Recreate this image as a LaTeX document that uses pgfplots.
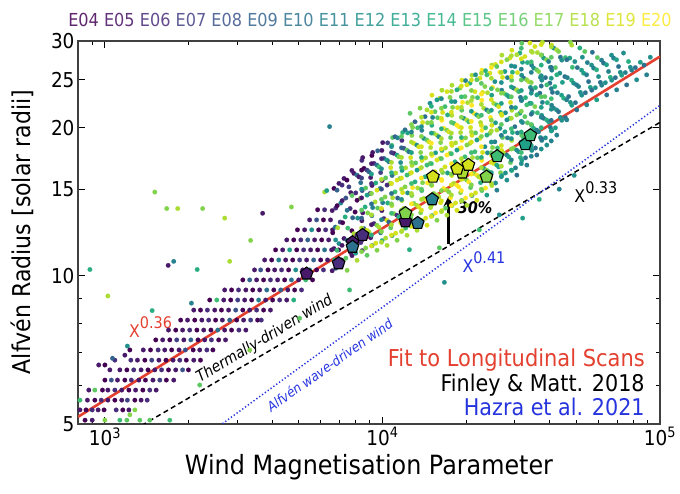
\documentclass[border=0pt]{standalone}
\usepackage{fontspec}
\setmainfont{DejaVu Sans}[FakeStretch=0.9]
\usepackage{pgfplots}
\pgfplotsset{compat=1.18}
\usetikzlibrary{plotmarks,arrows.meta}
\definecolor{v4}{HTML}{440154}\definecolor{v5}{HTML}{471365}\definecolor{v6}{HTML}{472A7A}
\definecolor{v7}{HTML}{423F85}\definecolor{v8}{HTML}{3B528B}\definecolor{v9}{HTML}{33638D}
\definecolor{v10}{HTML}{2C728E}\definecolor{v11}{HTML}{27818E}\definecolor{v12}{HTML}{21918C}
\definecolor{v13}{HTML}{1FA088}\definecolor{v14}{HTML}{28AE80}\definecolor{v15}{HTML}{3FBC73}
\definecolor{v16}{HTML}{5EC962}\definecolor{v17}{HTML}{84D44B}\definecolor{v18}{HTML}{ADDC30}
\definecolor{v19}{HTML}{D8E219}\definecolor{v20}{HTML}{FDE725}
\definecolor{fitred}{RGB}{228,64,48}
\definecolor{hblue}{RGB}{38,52,222}
\newcommand{\E}[1]{\textcolor{v#1!85!white}{E#1}}
\newcommand{\Ez}[1]{\textcolor{v#1!85!white}{E0#1}}
\begin{document}
\begin{tikzpicture}
\path[use as bounding box] (0,0) rectangle (680pt,494pt);
\begin{axis}[
 at={(78pt,70pt)}, anchor=south west,
 width=582pt, height=383pt, scale only axis,
 xmode=log, ymode=log,
 xmin=800, xmax=100000, ymin=5, ymax=30,
 xtick={1000,10000,100000},
 xticklabels={10\textsuperscript{3},10\textsuperscript{4},10\textsuperscript{5}},
 minor xtick={900,2000,3000,4000,5000,6000,7000,8000,9000,20000,30000,40000,50000,60000,70000,80000,90000},
 ytick={5,10,15,20,25,30}, yticklabels={5,10,15,20,25,30},
 minor ytick={6,7,8,9},
 tick align=inside,
 major tick length=7pt, minor tick length=4pt,
 every tick/.style={black, line width=1pt},
 axis line style={line width=1.3pt, black!75},
 tick label style={font=\fontsize{20.5}{20.5}\selectfont},
 colormap/viridis, point meta min=4, point meta max=20,
]
\addplot[scatter, only marks, mark=*, mark size=2.3pt, point meta=explicit,
 scatter/use mapped color={draw=mapped color, fill=mapped color}, mark options={line width=0.1pt}]
 table[row sep=\\, meta=c]{
x y c\\
848 5.09 4\\ 900 5.09 5\\ 1000 5.09 17\\ 1132 5.09 15\\ 1200 5.09 16\\ 1336 5.09 16\\ 1451 5.09 16\\ 1713 5.09 15\\
813 5.34 5\\ 855 5.34 4\\ 900 5.34 6\\ 945 5.34 5\\ 993 5.34 4\\ 1098 5.34 6\\ 1160 5.34 4\\ 1220 5.34 5\\ 1282 5.34 17\\
813 5.59 15\\ 865 5.59 5\\ 920 5.59 4\\ 970 5.59 6\\ 1025 5.59 5\\ 1086 5.59 4\\ 1150 5.59 5\\ 1205 5.59 7\\ 1282 5.59 4\\ 1350 5.59 5\\ 1420 5.59 6\\
875 5.86 5\\ 920 5.86 16\\ 980 5.86 4\\ 1025 5.86 5\\ 1086 5.86 6\\ 1150 5.86 5\\ 1220 5.86 4\\ 1290 5.86 5\\ 1370 5.86 4\\ 1451 5.86 6\\ 1530 5.86 5\\
1000 6.14 4\\ 1055 6.14 8\\ 1110 6.14 5\\ 1180 6.14 4\\ 1245 6.14 6\\ 1325 6.14 5\\ 1400 6.14 4\\ 1490 6.14 5\\ 1577 6.14 7\\ 1665 6.14 4\\ 1770 6.14 5\\
1132 6.44 5\\ 1200 6.44 4\\ 1270 6.44 6\\ 1350 6.44 5\\ 1430 6.44 4\\ 1513 6.44 5\\ 1600 6.44 6\\ 1695 6.44 4\\ 1800 6.44 5\\ 1905 6.44 8\\ 2000 6.44 4\\
1240 6.74 6\\ 1310 6.74 5\\ 1393 6.74 4\\ 1475 6.74 7\\ 1565 6.74 5\\ 1660 6.74 4\\ 1760 6.74 5\\ 1861 6.74 6\\ 1965 6.74 4\\ 2090 6.74 5\\ 2210 6.74 4\\
1375 7.07 5\\ 1460 7.07 4\\ 1555 7.07 6\\ 1643 7.07 5\\ 1740 7.07 4\\ 1850 7.07 5\\ 1950 7.07 8\\ 2080 7.07 4\\ 2196 7.07 5\\ 2330 7.07 6\\ 2450 7.07 4\\
1525 7.41 4\\ 1615 7.41 5\\ 1713 7.41 4\\ 1815 7.41 7\\ 1925 7.41 5\\ 2040 7.41 9\\ 2165 7.41 4\\ 2289 7.41 5\\ 2420 7.41 6\\ 2570 7.41 4\\ 2720 7.41 5\\
1695 7.76 5\\ 1800 7.76 4\\ 1905 7.76 5\\ 2021 7.76 6\\ 2145 7.76 4\\ 2270 7.76 5\\ 2410 7.76 4\\ 2550 7.76 10\\ 2701 7.76 5\\ 2860 7.76 4\\ 3040 7.76 6\\ 3220 7.76 5\\
1875 8.13 4\\ 1985 8.13 5\\ 2107 8.13 4\\ 2235 8.13 5\\ 2365 8.13 6\\ 2505 8.13 4\\ 2650 8.13 5\\ 2816 8.13 9\\ 2985 8.13 4\\ 3160 8.13 5\\ 3350 8.13 7\\ 3550 8.13 4\\ 3660 8.13 6\\
2090 8.52 5\\ 2210 8.52 4\\ 2340 8.52 6\\ 2487 8.52 5\\ 2630 8.52 4\\ 2790 8.52 5\\ 2960 8.52 8\\ 3140 8.52 4\\ 3324 8.52 5\\ 3520 8.52 6\\ 3730 8.52 4\\ 3950 8.52 5\\
2386 8.93 4\\ 2530 8.93 15\\ 2680 8.93 5\\ 2840 8.93 4\\ 3010 8.93 7\\ 3189 8.93 5\\ 3380 8.93 4\\ 3580 8.93 11\\ 3795 8.93 5\\ 4020 8.93 4\\ 4262 8.93 6\\ 4520 8.93 5\\ 4790 8.93 14\\
2701 9.36 5\\ 2860 9.36 4\\ 3030 9.36 6\\ 3220 9.36 5\\ 3410 9.36 4\\ 3611 9.36 5\\ 3830 9.36 10\\ 4060 9.36 4\\ 4300 9.36 9\\ 4560 9.36 5\\ 4826 9.36 4\\ 5110 9.36 6\\
3140 9.81 4\\ 3324 9.81 9\\ 3520 9.81 5\\ 3730 9.81 4\\ 3950 9.81 6\\ 4190 9.81 5\\ 4442 9.81 4\\ 4700 9.81 10\\ 4990 9.81 5\\ 5290 9.81 15\\ 5600 9.81 4\\
3460 10.28 5\\ 3640 10.28 8\\ 3870 10.28 4\\ 4089 10.28 5\\ 4330 10.28 6\\ 4590 10.28 4\\ 4870 10.28 12\\ 5160 10.28 5\\ 5464 10.28 10\\ 5790 10.28 4\\ 6130 10.28 6\\
3764 10.77 5\\ 3990 10.77 4\\ 4230 10.77 11\\ 4480 10.77 5\\ 4750 10.77 4\\ 5030 10.77 7\\ 5330 10.77 5\\ 5650 10.77 9\\ 5990 10.77 4\\ 6340 10.77 5\\ 6722 10.77 14\\ 7120 10.77 4\\
4120 11.29 4\\ 4370 11.29 5\\ 4630 11.29 13\\ 4910 11.29 4\\ 5200 11.29 6\\ 5510 11.29 5\\ 5840 11.29 4\\ 6187 11.29 10\\ 6560 11.29 5\\ 6950 11.29 4\\
4520 11.83 5\\ 4790 11.83 4\\ 5080 11.83 6\\ 5380 11.83 9\\ 5696 11.83 5\\ 6040 11.83 4\\ 6400 11.83 5\\ 6780 11.83 12\\
4940 12.40 4\\ 5243 12.40 5\\ 5560 12.40 12\\ 5890 12.40 4\\ 6240 12.40 6\\ 6610 12.40 5\\
5464 12.99 5\\ 5790 12.99 8\\ 6130 12.99 4\\ 6500 12.99 5\\ 5840 13.62 4\\ 6187 13.62 6\\
950 6.59 5\\ 1000 6.59 4\\ 1042 6.44 5\\ 1086 6.74 6\\ 1180 6.90 5\\ 1230 7.07 4\\
6590 10.24 5\\ 6790 10.36 9\\ 6690 11.36 5\\ 6860 11.27 15\\ 6620 12.23 4\\ 6760 12.56 10\\ 6590 13.57 5\\ 6790 13.73 6\\ 6690 15.05 4\\ 6860 14.93 9\\
6870 10.49 6\\ 7080 10.61 4\\ 6970 11.63 12\\ 7150 11.53 5\\ 6900 12.52 18\\ 7040 12.86 7\\ 6870 13.89 4\\ 7080 14.06 11\\ 6970 15.41 5\\ 7150 15.29 6\\
7160 10.73 4\\ 7380 10.86 16\\ 7270 11.91 5\\ 7450 11.81 10\\ 7190 12.82 4\\ 7340 13.17 14\\ 7160 14.22 5\\ 7380 14.39 8\\ 7270 15.77 5\\ 7450 15.65 4\\
7460 10.26 17\\ 7690 11.14 5\\ 7570 11.44 11\\ 7760 12.35 4\\ 7500 12.50 15\\ 7650 13.70 6\\ 7460 13.59 10\\ 7690 14.76 5\\ 7570 15.16 7\\ 7760 16.37 5\\
7770 10.99 5\\ 8010 11.12 13\\ 7890 12.18 18\\ 8090 12.09 5\\ 7810 13.12 9\\ 7970 13.48 4\\ 7770 14.56 16\\ 8010 14.74 6\\ 7890 16.15 5\\ 8090 16.02 10\\
8100 10.75 18\\ 8350 11.68 6\\ 8230 11.99 16\\ 8430 12.94 5\\ 8140 13.10 12\\ 8310 14.36 17\\ 8100 14.24 4\\ 8350 15.46 10\\ 8230 15.89 5\\ 8430 17.16 6\\
8450 11.25 5\\ 8700 11.39 17\\ 8580 12.47 9\\ 8790 12.37 19\\ 8490 13.43 5\\ 8660 13.80 14\\ 8450 14.90 8\\ 8700 15.08 16\\ 8580 16.53 4\\ 8790 16.40 7\\ 8490 17.39 5\\
8800 11.01 16\\ 9070 11.95 5\\ 8940 12.28 18\\ 9160 13.25 10\\ 8850 13.42 17\\ 9030 14.70 6\\ 8800 14.59 13\\ 9070 15.84 5\\ 8940 16.27 9\\ 9160 17.56 4\\
9170 11.52 12\\ 9460 11.65 19\\ 9320 12.77 6\\ 9550 12.67 17\\ 9220 13.76 11\\ 9410 14.13 18\\ 9170 15.26 5\\ 9460 15.44 14\\ 9320 16.92 6\\ 9550 16.79 10\\ 9220 17.81 5\\
9560 11.27 17\\ 9850 12.23 10\\ 9710 12.56 18\\ 9950 13.57 5\\ 9610 13.73 16\\ 9810 15.05 12\\ 9560 14.93 19\\ 9850 16.21 7\\ 9710 16.65 15\\ 9950 17.98 5\\ 9610 17.95 9\\
9970 11.79 14\\ 10270 11.93 18\\ 10120 13.07 6\\ 10370 12.97 19\\ 10020 14.08 11\\ 10220 14.46 17\\ 9970 15.62 5\\ 10270 15.81 16\\ 10120 17.32 9\\ 10370 17.19 13\\ 10020 18.65 5\\
10390 11.53 18\\ 10710 12.52 16\\ 10550 12.86 9\\ 10810 13.89 18\\ 10440 14.06 14\\ 10650 15.41 17\\ 10390 15.29 6\\ 10710 16.59 19\\ 10550 17.05 11\\ 10810 18.41 15\\ 10440 18.63 7\\
10830 12.07 12\\ 11160 12.21 19\\ 10990 13.38 17\\ 11270 13.28 6\\ 10880 14.41 18\\ 11100 14.81 15\\ 10830 15.99 10\\ 11160 16.18 18\\ 10990 17.74 5\\ 11270 17.60 13\\ 10880 19.10 16\\ 11100 19.17 9\\
11290 11.81 17\\ 11630 12.82 19\\ 11460 13.17 14\\ 11750 14.22 18\\ 11340 14.39 9\\ 11570 15.77 16\\ 11290 15.65 19\\ 11630 16.99 12\\ 11460 17.45 17\\ 11750 18.84 6\\ 11340 19.07 11\\
11760 12.35 19\\ 12120 12.50 15\\ 11940 13.70 18\\ 12240 13.59 11\\ 11820 14.76 19\\ 12060 15.16 17\\ 11760 16.37 13\\ 12120 16.57 18\\ 11940 18.16 8\\ 12240 18.01 16\\ 11820 19.55 14\\ 12060 19.80 10\\
12260 12.09 18\\ 12640 13.12 16\\ 12450 13.48 19\\ 12760 14.56 17\\ 12320 14.74 12\\ 12570 16.15 18\\ 12260 16.02 15\\ 12640 17.39 19\\ 12450 17.87 10\\ 12760 19.29 17\\ 12320 19.52 13\\ 12570 21.39 16\\
12780 12.65 13\\ 13170 12.80 19\\ 12970 14.03 17\\ 13300 13.91 18\\ 12840 15.11 20\\ 13100 15.52 14\\ 12780 16.76 18\\ 13170 16.96 16\\ 12970 18.59 19\\ 13300 18.44 12\\ 12840 20.02 17\\ 13100 20.56 9\\
13320 12.37 18\\ 13730 13.43 17\\ 13520 13.80 19\\ 13860 14.90 15\\ 13390 15.08 18\\ 13660 16.53 20\\ 13320 16.40 13\\ 13730 17.81 17\\ 13520 18.29 19\\ 13860 19.75 11\\ 13390 19.99 15\\ 13660 21.91 17\\
13880 12.94 16\\ 14310 13.10 19\\ 14090 14.36 18\\ 14450 14.24 20\\ 13950 15.46 17\\ 14240 15.89 14\\ 13880 17.16 19\\ 14310 17.37 18\\ 14090 19.02 12\\ 14450 18.88 16\\ 13950 20.49 19\\ 14240 21.06 10\\
14470 12.67 19\\ 14910 13.76 18\\ 14690 14.13 16\\ 15060 15.26 19\\ 14540 15.44 20\\ 14840 16.92 17\\ 14470 16.79 15\\ 14910 18.23 18\\ 14690 18.72 19\\ 15060 20.22 14\\ 14540 20.46 17\\ 14840 22.42 12\\ 14470 21.73 18\\
15080 13.25 14\\ 15540 13.42 20\\ 15310 14.70 17\\ 15700 14.59 18\\ 15160 15.84 16\\ 15460 16.27 19\\ 15080 17.56 20\\ 15540 17.78 13\\ 15310 19.48 17\\ 15700 19.32 18\\ 15160 20.98 11\\ 15460 21.55 16\\ 15080 23.28 19\\
15720 12.97 17\\ 16200 14.08 19\\ 15960 14.46 18\\ 16360 15.62 20\\ 15800 15.81 15\\ 16120 17.32 18\\ 15720 17.19 19\\ 16200 18.65 17\\ 15960 19.17 12\\ 16360 20.70 20\\ 15800 20.95 16\\ 16120 22.96 18\\ 15720 22.78 13\\
16380 13.57 19\\ 16880 13.73 16\\ 16630 15.05 20\\ 17050 14.93 18\\ 16470 16.21 17\\ 16800 16.65 19\\ 16380 17.98 14\\ 16880 18.19 18\\ 16630 19.94 20\\ 17050 19.78 17\\ 16470 21.48 19\\ 16800 22.07 15\\ 16380 23.83 18\\
17080 13.28 18\\ 17600 14.41 20\\ 17340 14.81 17\\ 17770 15.99 19\\ 17160 16.18 13\\ 17510 17.74 18\\ 17080 17.60 20\\ 17600 19.10 16\\ 17340 19.62 19\\ 17770 21.19 18\\ 17160 21.23 14\\ 17510 23.05 17\\ 17080 23.67 19\\
17800 13.89 16\\ 18340 14.06 19\\ 18070 15.41 18\\ 18520 15.29 20\\ 17890 16.59 17\\ 18250 17.05 14\\ 17800 18.41 19\\ 18340 18.63 18\\ 18070 20.41 15\\ 18520 20.25 20\\ 17890 21.99 17\\ 18250 22.59 12\\ 17800 24.39 18\\
18550 13.59 19\\ 19120 14.76 17\\ 18830 15.16 20\\ 19310 16.37 18\\ 18640 16.57 16\\ 19020 18.16 19\\ 18550 18.01 13\\ 19120 19.55 18\\ 18830 20.09 20\\ 19310 21.70 16\\ 18640 21.96 19\\ 19020 24.06 17\\ 18550 23.87 14\\
19330 14.22 14\\ 19930 14.39 20\\ 19630 15.77 18\\ 20120 15.65 17\\ 19430 16.99 19\\ 19830 17.45 15\\ 19330 18.84 20\\ 19930 19.07 17\\ 19630 20.90 12\\ 20120 20.74 18\\ 19430 22.51 20\\ 19830 23.13 16\\ 19330 24.97 19\\ 19930 24.92 11\\
20150 13.91 18\\ 20770 15.11 16\\ 20460 15.52 20\\ 20980 16.76 19\\ 20260 16.96 13\\ 20670 18.59 18\\ 20150 18.44 17\\ 20770 20.02 19\\ 20460 20.56 15\\ 20980 22.21 20\\ 20260 22.48 18\\ 20670 24.63 14\\ 20150 24.43 19\\
21010 14.56 12\\ 21650 14.74 19\\ 21330 16.15 17\\ 21860 16.02 20\\ 21110 17.39 18\\ 21540 17.87 15\\ 21010 19.29 19\\ 21650 19.52 16\\ 21330 21.39 20\\ 21860 21.23 13\\ 21110 23.05 17\\ 21540 23.67 19\\ 21010 25.56 18\\ 21650 25.61 12\\
21890 14.24 19\\ 22560 15.46 14\\ 22230 15.89 18\\ 22790 17.16 20\\ 22000 17.37 16\\ 22450 19.02 19\\ 21890 18.88 13\\ 22560 20.49 18\\ 22230 21.06 17\\ 22790 22.74 20\\ 22000 23.01 15\\ 22450 25.21 19\\ 21890 25.02 16\\
22820 14.90 16\\ 23520 15.08 20\\ 23170 16.53 13\\ 23750 16.40 17\\ 22940 17.81 19\\ 23400 18.29 12\\ 22820 19.75 20\\ 23520 19.99 15\\ 23170 21.91 18\\ 23750 21.73 11\\ 22940 23.59 19\\ 23400 24.24 17\\ 22820 26.17 20\\ 23520 26.10 14\\
23780 14.59 13\\ 24510 15.84 18\\ 24150 16.27 15\\ 24750 17.56 19\\ 23900 17.78 12\\ 24390 19.48 17\\ 23780 19.32 14\\ 24510 20.98 20\\ 24150 21.55 16\\ 24750 23.28 13\\ 23900 23.55 18\\ 24390 25.81 19\\ 23780 25.61 15\\
24790 15.26 18\\ 25550 15.44 12\\ 25170 16.92 19\\ 25800 16.79 14\\ 24920 18.23 17\\ 25420 18.72 11\\ 24790 20.22 19\\ 25550 20.46 13\\ 25170 22.42 18\\ 25800 22.25 15\\ 24920 24.15 20\\ 25420 24.81 12\\ 24790 26.80 18\\ 25550 26.89 19\\
25840 14.93 11\\ 26630 16.21 17\\ 26230 16.65 13\\ 26890 17.98 19\\ 25970 18.19 15\\ 26500 19.94 12\\ 25840 19.78 18\\ 26630 21.48 14\\ 26230 22.07 19\\ 26890 23.83 11\\ 25970 23.87 17\\ 26500 25.92 20\\ 25840 26.62 16\\
26930 15.99 14\\ 27750 16.18 12\\ 27340 17.74 18\\ 28030 17.60 11\\ 27070 19.10 16\\ 27620 19.62 13\\ 26930 21.19 19\\ 27750 21.44 12\\ 27340 23.50 17\\ 28030 23.31 14\\ 27070 25.31 19\\ 27620 26.01 13\\ 26930 28.08 18\\
28070 15.65 12\\ 28930 16.99 16\\ 28500 17.45 13\\ 29210 18.84 18\\ 28210 19.07 11\\ 28790 20.90 15\\ 28070 20.74 12\\ 28930 22.51 19\\ 28500 23.13 13\\ 29210 24.97 16\\ 28210 25.27 11\\ 28790 27.70 19\\ 28070 27.48 17\\
29260 16.37 15\\ 30150 16.57 11\\ 29700 18.16 17\\ 30450 18.01 12\\ 29400 19.55 14\\ 30000 20.09 10\\ 29260 21.70 18\\ 30150 21.96 13\\ 29700 24.06 11\\ 30450 23.87 18\\ 29400 25.92 14\\ 30000 26.62 12\\ 29260 28.74 19\\
30490 16.02 10\\ 31430 17.39 14\\ 30960 17.87 12\\ 31740 19.29 16\\ 30650 19.52 11\\ 31270 21.39 13\\ 30490 21.23 17\\ 31430 23.05 10\\ 30960 23.67 15\\ 31740 25.56 12\\ 30650 25.88 19\\ 31270 28.36 14\\ 30490 28.13 18\\
31780 17.16 13\\ 32760 17.37 10\\ 32270 19.02 15\\ 33080 18.88 12\\ 31950 20.49 11\\ 32590 21.06 16\\ 31780 22.74 12\\ 32760 23.01 14\\ 32270 25.21 10\\ 33080 25.02 17\\ 31950 27.16 13\\ 32590 27.90 19\\ 31780 29.68 16\\
33130 16.79 11\\ 34140 18.23 14\\ 33630 18.72 10\\ 34480 20.22 13\\ 33290 20.46 16\\ 33970 22.42 11\\ 33130 22.25 15\\ 34140 24.15 12\\ 33630 24.81 18\\ 34480 26.80 11\\ 33290 27.12 14\\ 33970 29.72 19\\
34530 17.98 12\\ 35580 18.19 10\\ 35060 19.94 14\\ 35940 19.78 11\\ 34700 21.48 13\\ 35410 22.07 17\\ 34530 23.83 10\\ 35580 24.11 14\\ 35060 26.43 12\\ 35940 26.22 16\\ 34700 28.46 18\\ 35410 29.23 19\\
35990 17.60 10\\ 37090 19.10 13\\ 36540 19.62 11\\ 37460 21.19 12\\ 36170 21.44 15\\ 36910 23.50 10\\ 35990 23.31 13\\ 37090 25.31 11\\ 36540 26.01 17\\ 37460 28.08 12\\ 36170 28.42 18\\
37510 18.84 11\\ 38660 19.07 12\\ 38080 20.90 10\\ 39040 20.74 14\\ 37700 22.51 11\\ 38470 23.13 16\\ 37510 24.97 12\\ 38660 25.27 10\\ 38080 27.70 13\\ 39040 27.48 17\\ 37700 29.83 18\\
39100 18.44 12\\ 40290 20.02 10\\ 39690 20.56 13\\ 40690 22.21 11\\ 39290 22.48 14\\ 40090 24.63 10\\ 39100 24.43 15\\ 40290 26.53 12\\ 39690 27.25 11\\ 40690 29.43 19\\
40750 19.75 10\\ 42000 19.99 13\\ 41370 21.91 11\\ 42410 21.73 12\\ 40960 23.59 10\\ 41790 24.24 14\\ 40750 26.17 11\\ 42000 26.49 16\\ 41370 29.03 12\\ 42410 28.79 18\\
42470 19.32 11\\ 43770 20.98 12\\ 43120 21.55 10\\ 44210 23.28 13\\ 42690 23.55 11\\ 43560 25.81 12\\ 42470 25.61 14\\ 43770 27.81 10\\ 43120 28.56 17\\
44270 20.70 12\\ 45620 20.95 10\\ 44950 22.96 14\\ 46080 22.78 11\\ 44500 24.72 13\\ 45400 25.40 10\\ 44270 27.43 12\\ 45620 27.76 15\\
46140 20.74 11\\ 47550 22.51 12\\ 46850 23.13 10\\ 48020 24.97 14\\ 46380 25.27 11\\ 47320 27.70 13\\ 46140 27.48 10\\ 47550 29.83 17\\
48090 22.21 13\\ 49570 22.48 10\\ 48830 24.63 12\\ 50060 24.43 11\\ 48340 26.53 15\\ 49320 27.25 12\\ 48090 29.43 18\\
50130 21.73 10\\ 51660 23.59 12\\ 50890 24.24 11\\ 52170 26.17 13\\ 50380 26.49 10\\ 51400 29.03 14\\
52240 23.28 12\\ 53840 23.55 10\\ 53040 25.81 13\\ 54380 25.61 11\\ 52510 27.81 12\\ 53580 28.56 16\\
54450 22.25 11\\ 56120 24.15 13\\ 55290 24.81 10\\ 56680 26.80 12\\ 54730 27.12 11\\
56760 23.83 10\\ 58500 24.11 12\\ 57630 26.43 11\\ 59080 26.22 14\\ 57050 28.46 10\\
59160 22.78 13\\ 60970 24.72 10\\ 60060 25.40 12\\ 61570 27.43 11\\ 59460 27.76 16\\
61660 24.39 11\\ 63550 24.68 12\\ 62600 27.06 10\\ 64180 26.84 13\\
64270 23.31 10\\ 66230 25.31 14\\ 65250 26.01 11\\ 66890 28.08 12\\
66990 24.97 12\\ 69040 25.27 10\\ 68010 27.70 11\\ 69720 27.48 13\\
69820 23.87 11\\ 71950 25.92 12\\ 70890 26.62 10\\
72770 25.56 13\\ 75000 25.88 11\\ 73880 28.36 12\\
75850 24.43 10\\ 78170 26.53 12\\ 77010 27.25 14\\
79060 26.17 11\\ 81480 26.49 10\\ 82400 25.02 12\\ 84920 27.16 13\\ 87634 26.8 10\\ 89510 25.61 11\\ 92250 27.81 12\\
8410 11.2 17\\ 8410 11.8 6\\ 8410 12.5 18\\ 8410 13.1 9\\ 8410 13.6 16\\ 8410 14.4 5\\ 8410 15.0 12\\ 8410 15.8 7\\ 8410 16.4 4\\
9130 11.5 19\\ 9130 12.1 14\\ 9130 12.7 5\\ 9130 13.3 18\\ 9130 14.0 10\\ 9130 14.7 17\\ 9130 15.4 6\\ 9130 16.1 13\\ 9130 16.9 5\\
9920 11.7 18\\ 9920 12.3 17\\ 9920 13.0 11\\ 9920 13.7 19\\ 9920 14.3 16\\ 9920 15.0 8\\ 9920 15.7 18\\ 9920 16.5 12\\ 9920 17.3 6\\
10780 12.1 19\\ 10780 12.7 18\\ 10780 13.4 15\\ 10780 14.0 17\\ 10780 14.7 10\\ 10780 15.4 19\\ 10780 16.2 14\\ 10780 17.0 18\\ 10780 17.8 7\\ 10780 18.3 12\\
11710 12.3 18\\ 11710 13.0 19\\ 11710 13.6 17\\ 11710 14.3 12\\ 11710 15.0 18\\ 11710 15.8 19\\ 11710 16.6 15\\ 11710 17.4 18\\ 11710 18.2 9\\ 11710 19.2 16\\
12720 12.6 19\\ 12720 13.3 17\\ 12720 14.0 20\\ 12720 14.7 18\\ 12720 15.4 15\\ 12720 16.2 19\\ 12720 17.0 17\\ 12720 17.8 13\\ 12720 18.7 18\\ 12720 19.6 11\\ 12720 20.3 17\\
13820 12.9 17\\ 13820 13.6 19\\ 13820 14.3 18\\ 13820 15.0 16\\ 13820 15.8 20\\ 13820 16.6 18\\ 13820 17.4 14\\ 13820 18.3 19\\ 13820 19.2 17\\ 13820 20.1 12\\ 13820 21.0 18\\
15010 13.2 19\\ 15010 13.9 18\\ 15010 14.6 20\\ 15010 15.3 17\\ 15010 16.1 19\\ 15010 16.9 15\\ 15010 17.7 18\\ 15010 18.6 20\\ 15010 19.5 13\\ 15010 20.5 17\\ 15010 21.5 19\\ 15010 22.1 14\\
16310 13.5 18\\ 16310 14.2 19\\ 16310 14.9 17\\ 16310 15.7 20\\ 16310 16.4 18\\ 16310 17.3 16\\ 16310 18.1 19\\ 16310 19.0 18\\ 16310 19.9 14\\ 16310 20.9 19\\ 16310 21.9 17\\ 16310 22.9 12\\
17720 13.9 20\\ 17720 14.6 18\\ 17720 15.3 19\\ 17720 16.1 17\\ 17720 16.9 20\\ 17720 17.7 15\\ 17720 18.6 19\\ 17720 19.5 18\\ 17720 20.5 16\\ 17720 21.5 19\\ 17720 22.6 13\\ 17720 23.7 18\\
19250 14.2 18\\ 19250 14.9 20\\ 19250 15.7 19\\ 19250 16.5 16\\ 19250 17.3 18\\ 19250 18.2 20\\ 19250 19.1 14\\ 19250 20.0 19\\ 19250 21.0 17\\ 19250 22.0 18\\ 19250 23.1 15\\ 19250 24.3 19\\
20910 14.6 19\\ 20910 15.3 17\\ 20910 16.1 20\\ 20910 16.9 18\\ 20910 17.8 15\\ 20910 18.7 19\\ 20910 19.6 18\\ 20910 20.6 20\\ 20910 21.6 13\\ 20910 22.7 18\\ 20910 23.8 17\\ 20910 25.0 19\\
22720 15.0 17\\ 22720 15.8 19\\ 22720 16.6 18\\ 22720 17.4 14\\ 22720 18.3 20\\ 22720 19.2 17\\ 22720 20.2 19\\ 22720 21.2 15\\ 22720 22.3 18\\ 22720 23.4 20\\ 22720 24.6 16\\ 22720 25.8 18\\
24680 15.4 18\\ 24680 16.2 13\\ 24680 17.0 19\\ 24680 17.8 16\\ 24680 18.7 12\\ 24680 19.7 18\\ 24680 20.7 17\\ 24680 21.7 13\\ 24680 22.8 19\\ 24680 24.0 15\\ 24680 25.2 18\\ 24680 26.5 20\\
26810 15.9 12\\ 26810 16.7 18\\ 26810 17.5 14\\ 26810 18.4 19\\ 26810 19.3 11\\ 26810 20.3 16\\ 26810 21.3 19\\ 26810 22.4 13\\ 26810 23.5 17\\ 26810 24.7 12\\ 26810 25.9 18\\ 26810 27.2 19\\
29130 16.4 13\\ 29130 17.2 11\\ 29130 18.1 17\\ 29130 19.0 12\\ 29130 19.9 15\\ 29130 20.9 18\\ 29130 22.0 11\\ 29130 23.1 16\\ 29130 24.2 13\\ 29130 25.4 19\\ 29130 26.7 12\\ 29130 28.0 18\\
31640 16.9 12\\ 31640 17.8 15\\ 31640 18.7 10\\ 31640 19.6 14\\ 31640 20.6 12\\ 31640 21.6 17\\ 31640 22.7 11\\ 31640 23.8 13\\ 31640 25.0 16\\ 31640 26.3 11\\ 31640 27.6 19\\ 31640 29.0 15\\
34370 17.5 11\\ 34370 18.4 13\\ 34370 19.3 12\\ 34370 20.3 16\\ 34370 21.3 10\\ 34370 22.4 14\\ 34370 23.5 12\\ 34370 24.7 17\\ 34370 25.9 11\\ 34370 27.2 15\\ 34370 28.6 18\\
37340 18.1 12\\ 37340 19.0 10\\ 37340 20.0 14\\ 37340 21.0 11\\ 37340 22.0 13\\ 37340 23.1 16\\ 37340 24.3 10\\ 37340 25.5 12\\ 37340 26.8 14\\ 37340 28.1 17\\ 37340 29.5 19\\
40570 18.8 11\\ 40570 19.7 13\\ 40570 20.7 10\\ 40570 21.8 12\\ 40570 22.9 15\\ 40570 24.0 11\\ 40570 25.2 13\\ 40570 26.5 10\\ 40570 27.8 16\\ 40570 29.2 18\\
1513 14.8 17\\ 1670 13.7 17\\ 1830 13.7 18\\ 2250 13.7 17\\ 2701 13.1 18\\ 1025 9.1 18\\ 883 10.3 14\\
1690 10.5 5\\ 1770 10.7 11\\ 2150 10.3 14\\ 2816 10.7 18\\ 3350 11.8 17\\ 3700 13.4 5\\ 4700 13.8 17\\
6187 14.8 18\\ 1065 6.8 9\\ 2050 8.8 11\\ 1480 8.5 14\\ 1205 7.2 12\\ 6300 14.9 13\\ 6449 20.1 11\\
16717 9.7 12\\ 32000 13.1 13\\ 43339 15.0 11\\ 49075 16.0 12\\ 36722 14.3 14\\ 22340 12.4 15\\ 26365 13.3 12\\
16039 11.4 16\\ 12510 11.3 14\\ 7611 9.36 15\\ 5030 8.2 16\\ 3324 7.07 17\\ 2196 6.0 16\\ 1230 5.22 17\\
};
\addplot[black, line width=1.5pt, dash pattern=on 5pt off 3.5pt] coordinates {(1000,4.49) (100000,20.5)};
\addplot[hblue, line width=1.5pt, dash pattern=on 1.3pt off 2.2pt] coordinates {(2000,4.46) (100000,22.2)};
\addplot[fitred, line width=2.6pt] coordinates {(800,5.17) (100000,27.9)};
\addplot[scatter, only marks, mark=pentagon*, mark size=6.6pt, point meta=explicit,
 scatter/use mapped color={draw=black, fill=mapped color, line width=1.1pt}]
 table[row sep=\\, meta=c]{
x y c\\
5330 10.1 5\\ 6950 10.6 6\\ 7800 11.7 5\\ 7800 11.45 10\\ 8480 12.1 6\\
12100 12.9 5\\ 12100 13.4 17\\ 13400 12.8 10\\ 15100 14.3 11\\ 15200 15.9 19\\
19400 16.2 18\\ 18600 16.5 19\\ 20400 16.8 19\\ 23700 15.9 17\\ 25900 17.5 15\\
32700 18.5 13\\ 34100 19.3 15\\
};
\addplot[black, line width=2.2pt, -{Stealth[length=10pt,width=10pt]}] coordinates {(17300,11.6) (17300,14.5)};
\node[anchor=west, font=\bfseries\itshape\fontsize{16}{16}\selectfont] at (axis cs:18160,13.75) {30\%};
\node[anchor=base west, text=fitred, inner sep=0pt] at (axis cs:1220,7.48) {\fontsize{17.5}{17.5}\selectfont X\raisebox{9pt}{\fontsize{16}{16}\selectfont 0.36}};
\node[anchor=base west, text=hblue, inner sep=0pt] at (axis cs:19400,10.14) {\fontsize{17.5}{17.5}\selectfont X\raisebox{9pt}{\fontsize{16}{16}\selectfont 0.41}};
\node[anchor=base west, text=black, inner sep=0pt] at (axis cs:49100,14.07) {\fontsize{17.5}{17.5}\selectfont X\raisebox{9pt}{\fontsize{16}{16}\selectfont 0.33}};
\node[rotate=31, font=\itshape\fontsize{15.5}{15.5}\selectfont] at (axis cs:3765,7.44) {Thermally-driven wind};
\node[rotate=35, text=hblue, font=\itshape\fontsize{13.5}{13.5}\selectfont] at (axis cs:6450,6.59) {Alfvén wave-driven wind};
\node[anchor=base east, text=fitred, inner sep=0pt, font=\fontsize{23.3}{23.3}\selectfont] at (rel axis cs:0.974,0.151) {Fit to Longitudinal Scans};
\node[anchor=base east, text=black, inner sep=0pt, font=\fontsize{23}{23}\selectfont] at (rel axis cs:0.974,0.086) {Finley \& Matt. 2018};
\node[anchor=base east, text=hblue, inner sep=0pt, font=\fontsize{23}{23}\selectfont] at (rel axis cs:0.974,0.021) {Hazra et al. 2021};
\end{axis}
\node[font=\fontsize{26.5}{26.5}\selectfont] at (369pt,27pt) {Wind Magnetisation Parameter};
\node[rotate=90, font=\fontsize{24.5}{24.5}\selectfont] at (22pt,262pt) {Alfvén Radius [solar radii]};
\node[inner sep=0pt, font=\fontsize{17.9}{17.9}\selectfont] at (370pt,474pt) {\Ez{4} \Ez{5} \Ez{6} \Ez{7} \Ez{8} \Ez{9} \E{10} \E{11} \E{12} \E{13} \E{14} \E{15} \E{16} \E{17} \E{18} \E{19} \E{20}};
\end{tikzpicture}
\end{document}
